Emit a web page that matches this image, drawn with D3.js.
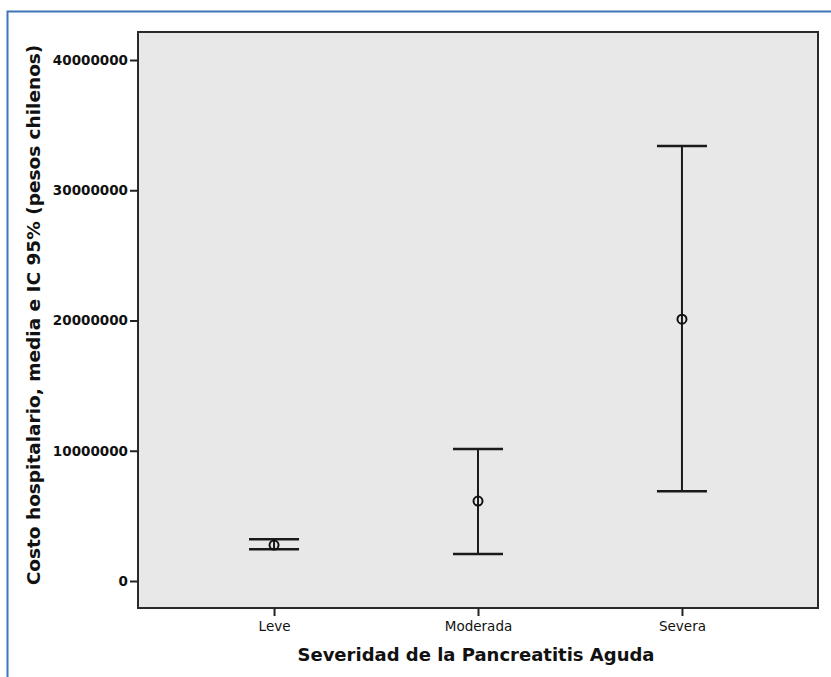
<!DOCTYPE html>
<html>
<head>
<meta charset="utf-8">
<script src="https://cdn.jsdelivr.net/npm/d3@7"></script>
<style>
  body { margin: 0; background: #fff; }
  svg { display: block; }
</style>
</head>
<body>
<script>
// data
const categories = ['Leve', 'Moderada', 'Severa']
const means = [2760000, 6140000, 20100000]
const lower = [2430000, 2070000, 6900000]
const upper = [3200000, 10130000, 33400000]
const yTicks = [0, 10000000, 20000000, 30000000, 40000000]

const rows = categories.map((c, i) => ({ cat: c, mean: means[i], lo: lower[i], hi: upper[i] }))

var w = 831
var h = 677
var plot = { left: 138, right: 818, top: 32, bottom: 608 }

var svg = d3.select('body')
  .append('svg')
  .attr('width', w)
  .attr('height', h)

// outer blue frame (only top and left show)
svg.append('path')
  .attr('d', `M7.5,${h} V11.5 H${w}`)
  .attr('fill', 'none')
  .attr('stroke', '#3f76b8')
  .attr('stroke-width', 2)

// scales
var xScale = d3.scalePoint()
  .domain(categories)
  .range([plot.left, plot.right])
  .padding(0.667)

var yScale = d3.scaleLinear()
  .domain([0, 40000000])
  .range([581, 60])

// plot background
svg.append('rect')
  .attr('x', plot.left)
  .attr('y', plot.top)
  .attr('width', plot.right - plot.left)
  .attr('height', plot.bottom - plot.top)
  .attr('fill', '#e8e8e8')
  .attr('stroke', '#2a2a2a')
  .attr('stroke-width', 2)

// axes
var yAxis = d3.axisLeft(yScale)
  .tickValues(yTicks)
  .tickFormat(d3.format('d'))
  .tickSize(8)
  .tickPadding(2)

var gy = svg.append('g')
  .attr('transform', `translate(${plot.left},0)`)
  .call(yAxis)
gy.select('.domain').remove()
gy.selectAll('line').attr('stroke', '#222').attr('stroke-width', 2)
gy.selectAll('text')
  .attr('fill', '#111')
  .attr('font-family', 'DejaVu Sans, sans-serif')
  .attr('font-weight', 'bold')
  .attr('font-size', '13.5px')

var xAxis = d3.axisBottom(xScale)
  .tickSize(8)
  .tickPadding(5)

var gx = svg.append('g')
  .attr('transform', `translate(0,${plot.bottom})`)
  .call(xAxis)
gx.select('.domain').remove()
gx.selectAll('line').attr('stroke', '#222').attr('stroke-width', 2)
gx.selectAll('text')
  .attr('fill', '#111')
  .attr('font-family', 'DejaVu Sans, sans-serif')
  .attr('font-size', '13.5px')

// error bars
var capHalf = 25
var bars = svg.append('g')
  .selectAll('g')
  .data(rows)
  .enter()
  .append('g')

bars.append('line')
  .attr('x1', d => xScale(d.cat))
  .attr('x2', d => xScale(d.cat))
  .attr('y1', d => yScale(d.lo))
  .attr('y2', d => yScale(d.hi))
  .attr('stroke', '#1a1a1a')
  .attr('stroke-width', 2)

bars.selectAll('.cap')
  .data(d => [[d.cat, d.lo], [d.cat, d.hi]])
  .enter()
  .append('line')
  .attr('class', 'cap')
  .attr('x1', d => xScale(d[0]) - capHalf)
  .attr('x2', d => xScale(d[0]) + capHalf)
  .attr('y1', d => yScale(d[1]))
  .attr('y2', d => yScale(d[1]))
  .attr('stroke', '#1a1a1a')
  .attr('stroke-width', 2.5)

bars.append('circle')
  .attr('cx', d => xScale(d.cat))
  .attr('cy', d => yScale(d.mean))
  .attr('r', 4.5)
  .attr('fill', 'none')
  .attr('stroke', '#111')
  .attr('stroke-width', 2)

// axis titles
svg.append('text')
  .attr('x', 476)
  .attr('y', 661)
  .attr('text-anchor', 'middle')
  .attr('font-family', 'DejaVu Sans, sans-serif')
  .attr('font-weight', 'bold')
  .attr('font-size', '18px')
  .attr('fill', '#111')
  .text('Severidad de la Pancreatitis Aguda')

svg.append('text')
  .attr('transform', 'translate(40,315) rotate(-90)')
  .attr('text-anchor', 'middle')
  .attr('font-family', 'DejaVu Sans, sans-serif')
  .attr('font-weight', 'bold')
  .attr('font-size', '18.5px')
  .attr('fill', '#111')
  .text('Costo hospitalario, media e IC 95% (pesos chilenos)')
</script>
</body>
</html>
